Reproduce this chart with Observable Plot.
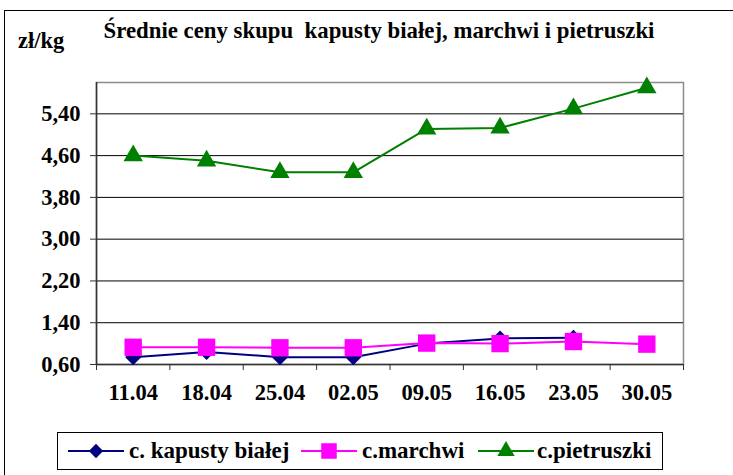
<!DOCTYPE html>
<html>
<head>
<meta charset="utf-8">
<script src="https://cdn.jsdelivr.net/npm/d3@7"></script>
<script src="https://cdn.jsdelivr.net/npm/@observablehq/plot@0.6"></script>
<style>
  html, body { margin: 0; padding: 0; background: #fff; }
  #wrap { position: relative; width: 733px; height: 475px; overflow: hidden; background: #fff;
          font-family: "Liberation Serif", "Times New Roman", serif; font-weight: bold; color: #000; }
  #border { position: absolute; left: 4px; top: 10px; width: 780px; height: 520px; border: 1px solid #000; box-sizing: border-box; }
  #title { position: absolute; left: 0; width: 758px; top: 18px; text-align: center; font-size: 22.8px; line-height: 26px; white-space: nowrap; }
  #unit { position: absolute; left: 18px; top: 28px; font-size: 22.5px; line-height: 26px; }
  #chart { position: absolute; left: 0; top: 0; }
  #legend { position: absolute; left: 57px; top: 432px; width: 606px; height: 38px; border: 1px solid #000; box-sizing: border-box;
            font-size: 23px; white-space: nowrap; }
  .sw { position: absolute; top: 6px; }
  .lab { position: absolute; top: 5px; line-height: 26px; }
</style>
</head>
<body>
<div id="wrap">
  <div id="border"></div>
  <div id="chart"></div>
  <div id="title">Średnie ceny skupu&nbsp; kapusty białej, marchwi i pietruszki</div>
  <div id="unit">zł/kg</div>
  <div id="legend"></div>
</div>
<script>
const categories = ["11.04", "18.04", "25.04", "02.05", "09.05", "16.05", "23.05", "30.05"];
const kapusty = [0.74, 0.84, 0.74, 0.74, 1.00, 1.10, 1.11, null];
const marchwi = [0.93, 0.93, 0.92, 0.92, 1.01, 1.00, 1.04, 0.99];
const pietruszki = [4.60, 4.50, 4.28, 4.28, 5.11, 5.13, 5.50, 5.90];
const yTicks = [0.6, 1.4, 2.2, 3.0, 3.8, 4.6, 5.4];
const seriesNames = ["c. kapusty białej", "c.marchwi", "c.pietruszki"];
const seriesColors = ["#000080", "#FF00FF", "#008000"];
const seriesSymbols = ["diamond2", "square", "triangle"];
const seriesR = [7.2, 9.8, 7.2];

const seriesValues = [kapusty, marchwi, pietruszki];
const rows = [];
seriesValues.forEach((vals, s) => vals.forEach((v, i) => rows.push({s, i, v})));

const idx = categories.map((_, i) => i);
const bounds = d3.range(categories.length + 1).map(i => i - 0.5);
const xDomain = [bounds[0], bounds[bounds.length - 1]];
const yDomain = [0.6, 6.0];

const marks = [
  Plot.frame({stroke: "#8c8c8c", strokeWidth: 1.5}),
  Plot.ruleY(yTicks.slice(1), {stroke: "#000", strokeWidth: 1}),
  Plot.ruleX([xDomain[0]], {stroke: "#333", strokeWidth: 1.5}),
  Plot.ruleY([yDomain[0]], {stroke: "#333", strokeWidth: 1.5}),
  Plot.axisY(yTicks, {label: null, tickSize: 6, tickPadding: 10, tickFormat: d => d.toFixed(2).replace(".", ","), stroke: "#333"}),
  Plot.axisX(bounds, {label: null, tickSize: 6, tickFormat: () => "", stroke: "#333"}),
  Plot.axisX(idx, {label: null, tickSize: 0, tickPadding: 20, tickFormat: i => categories[i]})
];
seriesValues.forEach((vals, s) => {
  const data = rows.filter(d => d.s === s);
  marks.push(Plot.line(data, {x: "i", y: "v", stroke: seriesColors[s], strokeWidth: 2}));
  marks.push(Plot.dot(data.filter(d => d.v != null), {x: "i", y: "v", symbol: () => seriesSymbols[s], r: seriesR[s], fill: seriesColors[s], stroke: "none"}));
});

const chart = Plot.plot({
  width: 733,
  height: 475,
  marginLeft: 96,
  marginRight: 50,
  marginTop: 82,
  marginBottom: 111,
  style: {fontFamily: "'Liberation Serif', 'Times New Roman', serif", fontWeight: "bold", fontSize: "22.5px", background: "transparent", color: "#000"},
  x: {domain: xDomain, axis: null},
  y: {domain: yDomain, axis: null},
  symbol: {type: "identity"},
  marks
});
document.getElementById("chart").appendChild(chart);

// legend (positions relative to the legend box)
const legend = document.getElementById("legend");
const swatchLeft = [10, 243, 420];
const labelLeft = [71, 304, 479];
const symMap = {diamond2: d3.symbolDiamond2, square: d3.symbolSquare, triangle: d3.symbolTriangle};
seriesNames.forEach((name, s) => {
  const svg = d3.create("svg").attr("class", "sw").attr("width", 56).attr("height", 24)
     .style("left", swatchLeft[s] + "px");
  svg.append("line").attr("x1", 0).attr("x2", 56).attr("y1", 12).attr("y2", 12)
     .attr("stroke", seriesColors[s]).attr("stroke-width", 2);
  const size = seriesR[s] * seriesR[s] * Math.PI * 0.8;
  svg.append("path").attr("transform", "translate(28,12)")
     .attr("d", d3.symbol(symMap[seriesSymbols[s]], size)()).attr("fill", seriesColors[s]);
  legend.appendChild(svg.node());
  const label = document.createElement("div");
  label.className = "lab";
  label.textContent = name;
  label.style.left = labelLeft[s] + "px";
  legend.appendChild(label);
});
</script>
</body>
</html>
